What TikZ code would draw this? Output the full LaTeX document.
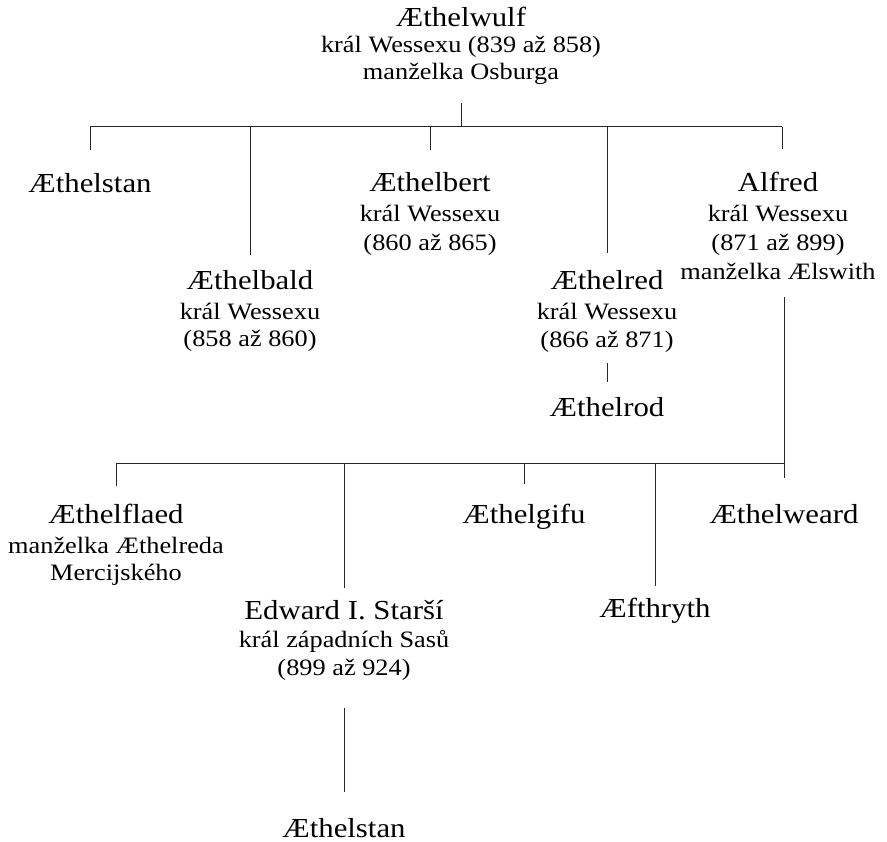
\documentclass[tikz,border=0pt]{standalone}
\usepackage{fontspec}
\setmainfont[FakeStretch=1.12]{Liberation Serif}
\begin{document}
\tikzset{
  ttl/.style={font=\fontsize{27.5pt}{33pt}\selectfont, inner sep=0pt, anchor=base},
  sb/.style={font=\fontsize{23.5pt}{28pt}\selectfont, inner sep=0pt, anchor=base},
  ln/.style={line width=1pt, draw=black!85},
}
\begin{tikzpicture}[x=1pt,y=-1pt]
\useasboundingbox (0,0) rectangle (887,842);
% generation 1
\node[ttl] (wulf)  at (461,27) {Æthelwulf};
\node[sb]  (wulf1) at (461,53) {král Wessexu (839 až 858)};
\node[sb]  (wulf2) at (461,80) {manželka Osburga};
% generation 2
\node[ttl] (stan)  at (90,193) {Æthelstan};
\node[ttl] (bald)  at (250,290) {Æthelbald};
\node[sb]  (bald1) at (250,320) {král Wessexu};
\node[sb]  (bald2) at (250,347) {(858 až 860)};
\node[ttl] (bert)  at (430,192) {Æthelbert};
\node[sb]  (bert1) at (430,222) {král Wessexu};
\node[sb]  (bert2) at (430,251) {(860 až 865)};
\node[ttl] (red)   at (607,290) {Æthelred};
\node[sb]  (red1)  at (607,320) {král Wessexu};
\node[sb]  (red2)  at (607,348) {(866 až 871)};
\node[ttl] (rod)   at (607,417) {Æthelrod};
\node[ttl] (alf)   at (778,192) {Alfred};
\node[sb]  (alf1)  at (778,222) {král Wessexu};
\node[sb]  (alf2)  at (778,251) {(871 až 899)};
\node[sb]  (alf3)  at (778,280) {manželka Ælswith};
% generation 3
\node[ttl] (flaed)  at (116,523) {Æthelflaed};
\node[sb]  (flaed1) at (116,553) {manželka Æthelreda};
\node[sb]  (flaed2) at (116,580) {Mercijského};
\node[ttl] (edw)    at (344,619) {Edward I. Starší};
\node[sb]  (edw1)   at (344,647) {král západních Sasů};
\node[sb]  (edw2)   at (344,675) {(899 až 924)};
\node[ttl] (gifu)   at (524,523) {Æthelgifu};
\node[ttl] (fthr)   at (655,617) {Æfthryth};
\node[ttl] (weard)  at (784,523) {Æthelweard};
% generation 4
\node[ttl] (stan2)  at (344,837) {Æthelstan};

% bar 1
\coordinate (b1l) at (90,127);
\coordinate (b1r) at (782,127);
\draw[ln] (b1l) -- (b1r);
\path ([yshift=-18pt]wulf2.south) coordinate (wulfbot);
\draw[ln] (wulfbot) -- (wulfbot |- b1l);
\draw[ln] (stan |- b1l) -- ([yshift=24pt]stan.north);
\draw[ln] (bald |- b1l) -- ([yshift=16pt]bald.north);
\draw[ln] (bert |- b1l) -- ([yshift=23pt]bert.north);
\draw[ln] (red |- b1l) -- ([yshift=18pt]red.north);
\path ([yshift=23pt]alf.north) coordinate (alftop);
\draw[ln] (b1r) -- (b1r |- alftop);
\draw[ln] ([yshift=-10pt]red2.south) -- ([yshift=16pt]rod.north);

% bar 2
\coordinate (b2l) at (116,464);
\coordinate (b2r) at (784,464);
\coordinate (alfend) at (784,478);
\draw[ln] (b2l) -- (b2r);
\path ([yshift=-17pt]alf3.south) coordinate (alfbot);
\draw[ln] (b2r |- alfbot) -- (alfend);
\draw[ln] (b2l) -- ([yshift=17pt]flaed.north);
\draw[ln] (edw |- b2l) -- ([yshift=12pt]edw.north);
\draw[ln] (gifu |- b2l) -- ([yshift=19pt]gifu.north);
\draw[ln] (fthr |- b2l) -- ([yshift=11pt]fthr.north);
\draw[ln] ([yshift=-28pt]edw2.south) -- ([yshift=26pt]stan2.north);
\end{tikzpicture}
\end{document}
